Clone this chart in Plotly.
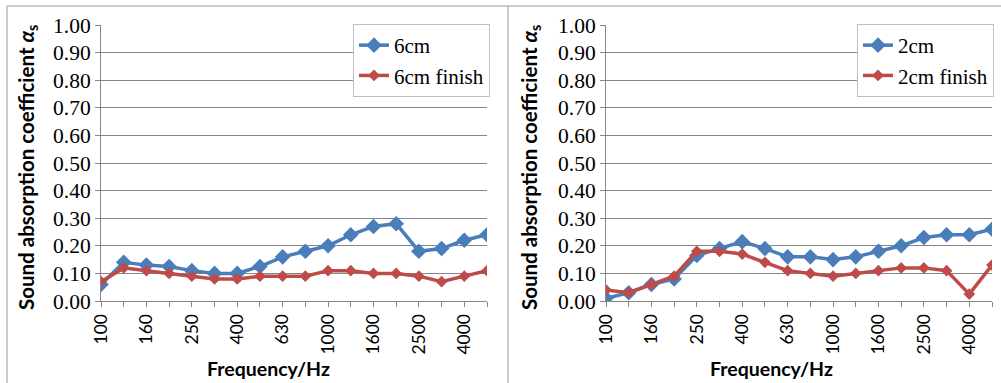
import plotly.graph_objects as go

freqs = ["100", "125", "160", "200", "250", "315", "400", "500", "630", "800",
         "1000", "1250", "1600", "2000", "2500", "3150", "4000", "5000"]
labelled_freqs = freqs[::2]

cm6 = [0.06, 0.14, 0.13, 0.125, 0.11, 0.10, 0.10, 0.125, 0.16, 0.18,
       0.20, 0.24, 0.27, 0.28, 0.18, 0.19, 0.22, 0.24]
cm6_finish = [0.07, 0.12, 0.11, 0.10, 0.09, 0.08, 0.08, 0.09, 0.09, 0.09,
              0.11, 0.11, 0.10, 0.10, 0.09, 0.07, 0.09, 0.11]
cm2 = [0.01, 0.03, 0.06, 0.08, 0.165, 0.19, 0.215, 0.19, 0.16, 0.16,
       0.15, 0.16, 0.18, 0.20, 0.23, 0.24, 0.24, 0.26]
cm2_finish = [0.04, 0.03, 0.06, 0.09, 0.18, 0.18, 0.17, 0.14, 0.11, 0.10,
              0.09, 0.10, 0.11, 0.12, 0.12, 0.11, 0.025, 0.13]

BLUE = "#4A7EBB"
RED = "#BE4B48"
GRID = "#868686"
W, H = 1001, 383

def px_x(p):
    return p / W

def px_y(p):
    return 1 - p / H

fig = go.Figure()

def add_pair(xaxis, yaxis, legend, a, b, na, nb):
    fig.add_trace(go.Scatter(x=freqs, y=a, name=na, mode="lines+markers",
                             line=dict(color=BLUE, width=3.5),
                             marker=dict(symbol="diamond", size=12, color=BLUE),
                             xaxis=xaxis, yaxis=yaxis, legend=legend,
                             legendgroup=na))
    fig.add_trace(go.Scatter(x=freqs, y=b, name=nb, mode="lines+markers",
                             line=dict(color=RED, width=3.5),
                             marker=dict(symbol="diamond", size=9, color=RED),
                             xaxis=xaxis, yaxis=yaxis, legend=legend,
                             legendgroup=nb))

add_pair("x", "y", "legend", cm6, cm6_finish, "6cm", "6cm finish")
add_pair("x2", "y2", "legend2", cm2, cm2_finish, "2cm", "2cm finish")

tick_font = dict(family="Lato", size=17.5, color="black")
ytick_font = dict(family="Liberation Serif", size=21.5, color="black")

xcommon = dict(type="category", categoryorder="array", categoryarray=freqs,
               range=[0, 17], tickmode="array", tickvals=labelled_freqs,
               ticktext=labelled_freqs,
               tickangle=-90, ticks="outside", ticklen=5, tickcolor=GRID,
               minor=dict(tickmode="array", tickvals=freqs, ticks="outside",
                          ticklen=5, tickcolor=GRID, showgrid=False),
               showline=True, linecolor=GRID, linewidth=1, showgrid=False,
               tickfont=tick_font, zeroline=False, fixedrange=True,
               automargin=False)
ycommon = dict(range=[0, 1], dtick=0.1, tickformat=".2f", ticks="outside",
               ticklen=5, tickcolor=GRID, showline=True, linecolor=GRID,
               linewidth=1, showgrid=True, gridcolor=GRID, gridwidth=1,
               tickfont=ytick_font, zeroline=False, fixedrange=True,
               automargin=False)

ydom = [px_y(301), px_y(25)]
legend_common = dict(xanchor="left", yanchor="top", bgcolor="white",
                     bordercolor="#BFBFBF", borderwidth=1,
                     font=dict(family="Liberation Serif", size=21, color="black"),
                     traceorder="grouped", tracegroupgap=0, itemwidth=30)
fig.update_layout(
    width=W, height=H,
    margin=dict(l=0, r=0, t=0, b=0, autoexpand=False),
    paper_bgcolor="white", plot_bgcolor="white",
    xaxis=dict(domain=[px_x(101), px_x(487)], anchor="y", **xcommon),
    yaxis=dict(domain=ydom, anchor="x", **ycommon),
    xaxis2=dict(domain=[px_x(606), px_x(992)], anchor="y2", **xcommon),
    yaxis2=dict(domain=ydom, anchor="x2", **ycommon),
    legend=dict(x=px_x(353), y=px_y(24), **legend_common),
    legend2=dict(x=px_x(857), y=px_y(24), **legend_common),
)

ytitle = "Sound absorption coefficient <i>α</i><sub>s</sub>"
for xc in (27, 530):
    fig.add_annotation(text=ytitle, x=px_x(xc), y=px_y(168), xref="paper", yref="paper",
                       xanchor="center", yanchor="middle",
                       textangle=-90, showarrow=False,
                       font=dict(family="Lato", size=20.5, color="black", weight="bold"))
for xc in (268, 771):
    fig.add_annotation(text="Frequency/Hz", x=px_x(xc), y=px_y(368), xref="paper",
                       yref="paper", xanchor="center", yanchor="middle", showarrow=False,
                       font=dict(family="Lato", size=19.5, color="black", weight="bold"))

# chart frame lines
BORDER = "#9A9A9A"
fig.add_shape(type="line", xref="paper", yref="paper", x0=px_x(7), x1=1,
              y0=px_y(6), y1=px_y(6), line=dict(color=BORDER, width=1))
for xc in (7, 508):
    fig.add_shape(type="line", xref="paper", yref="paper", x0=px_x(xc), x1=px_x(xc),
                  y0=0, y1=px_y(6), line=dict(color=BORDER, width=1))

fig.write_html("out.html", config={"displayModeBar": False},
               post_script="document.body.style.margin='0';document.body.style.overflow='hidden';")
